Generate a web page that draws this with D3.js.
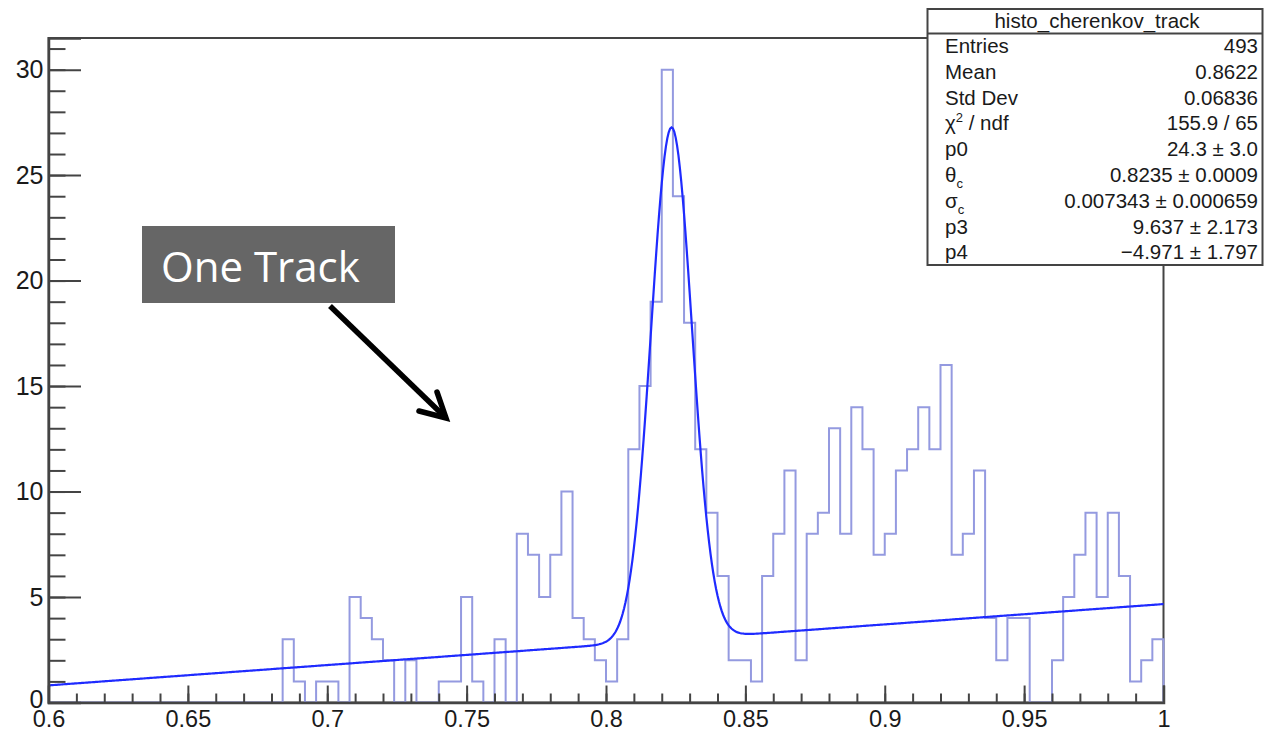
<!DOCTYPE html>
<html lang="en">
<head>
    <meta charset="UTF-8">
    <title>histo_cherenkov_track</title>
    <script src="https://d3js.org/d3.v7.min.js"></script>
    <style>
        body { margin: 0; background: #fff; }
        svg { display: block; }
        .axis text { font-family: "Liberation Sans", Arial, sans-serif; font-size: 25px; fill: #1a1a1a; }
        .axis.xlab text { font-size: 23.5px; }
        .axis path, .axis line { stroke: #444; }
        .stats text { font-family: "Liberation Sans", Arial, sans-serif; font-size: 20.5px; fill: #1a1a1a; }
    </style>
</head>
<body>
<div id="chart"></div>
<script>
    // histogram: 100 bins between 0.6 and 1
    const xRange = [0.6, 1.0];
    const nBins = 100;
    const counts = [
        0, 0, 0, 0, 0, 0, 0, 0, 0, 0,
        0, 0, 0, 0, 0, 0, 0, 0, 0, 0,
        0, 3, 1, 0, 1, 1, 0, 5, 4, 3,
        2, 0, 2, 0, 0, 1, 1, 5, 1, 0,
        3, 0, 8, 7, 5, 7, 10, 4, 3, 2,
        1, 3, 12, 15, 19, 30, 24, 18, 12, 9,
        6, 2, 2, 1, 6, 8, 11, 2, 8, 9,
        13, 8, 14, 12, 7, 8, 11, 12, 14, 12,
        16, 7, 8, 11, 4, 2, 4, 4, 0, 0,
        2, 5, 7, 9, 5, 9, 6, 1, 2, 3
    ];

    // fit: p0*gaus(theta_c, sigma_c) + p4 + p3*x
    const fitParams = [24.3, 0.8235, 0.007343, 9.637, -4.971];

    const xTicks = [0.6, 0.65, 0.7, 0.75, 0.8, 0.85, 0.9, 0.95, 1];
    const xTickLabels = ["0.6", "0.65", "0.7", "0.75", "0.8", "0.85", "0.9", "0.95", "1"];
    const yTicks = [0, 5, 10, 15, 20, 25, 30];

    const statsTitle = "histo_cherenkov_track";
    const statsNames = ["Entries", "Mean", "Std Dev", "χ2 / ndf", "p0", "θc", "σc", "p3", "p4"];
    const statsValues = ["493", "0.8622", "0.06836", "155.9 / 65", "24.3 ± 3.0", "0.8235 ± 0.0009",
        "0.007343 ± 0.000659", "9.637 ± 2.173", "−4.971 ± 1.797"];

    const width = 1264, height = 733;
    const svg = d3.select("#chart").append("svg")
        .attr("width", width)
        .attr("height", height);

    const x = d3.scaleLinear().domain(xRange).range([48.5, 1163.5]);
    const y = d3.scaleLinear().domain([0, 31.5]).range([702.5, 38]);

    // frame
    svg.append("rect")
        .attr("x", x(0.6)).attr("y", y(31.5))
        .attr("width", x(1) - x(0.6)).attr("height", y(0) - y(31.5))
        .attr("fill", "none").attr("stroke", "#444").attr("stroke-width", 2);

    // histogram outline
    const binW = (xRange[1] - xRange[0]) / nBins;
    const histPts = [[xRange[0], 0]];
    counts.forEach((c, i) => {
        histPts.push([xRange[0] + i * binW, c]);
        histPts.push([xRange[0] + (i + 1) * binW, c]);
    });
    histPts.push([xRange[1], 0]);
    const line = d3.line().x(d => x(d[0])).y(d => y(d[1]));
    svg.append("path")
        .attr("d", line(histPts))
        .attr("fill", "none")
        .attr("stroke", "#949ae0")
        .attr("stroke-width", 2);

    // fit curve
    const [p0, mu, sig, p3, p4] = fitParams;
    const fitPts = d3.range(0, 801).map(k => {
        const xv = xRange[0] + k * (xRange[1] - xRange[0]) / 800;
        return [xv, p0 * Math.exp(-0.5 * ((xv - mu) / sig) ** 2) + p4 + p3 * xv];
    });
    svg.append("path")
        .attr("d", line(fitPts))
        .attr("fill", "none")
        .attr("stroke", "#1f2bff")
        .attr("stroke-width", 2.2);

    // x axis (ticks inside, up)
    svg.append("g").attr("class", "axis")
        .attr("transform", `translate(0,${y(0)})`)
        .call(d3.axisBottom(x).tickValues(d3.range(0.6, 1.0001, 0.01)).tickSize(-9).tickFormat(""))
        .call(g => g.select(".domain").remove())
        .selectAll("line").attr("stroke-width", 2);
    svg.append("g").attr("class", "axis xlab")
        .attr("transform", `translate(0,${y(0)})`)
        .call(d3.axisBottom(x).tickValues(xTicks).tickSize(-17).tickPadding(8)
            .tickFormat((d, i) => xTickLabels[i]))
        .call(g => g.select(".domain").attr("stroke-width", 2.5))
        .call(g => g.selectAll("line").attr("stroke-width", 2));

    // y axis
    svg.append("g").attr("class", "axis")
        .attr("transform", `translate(${x(0.6)},0)`)
        .call(d3.axisLeft(y).tickValues(d3.range(0, 32, 1)).tickSize(-17).tickFormat(""))
        .call(g => g.select(".domain").remove())
        .selectAll("line").attr("stroke-width", 2);
    svg.append("g").attr("class", "axis")
        .attr("transform", `translate(${x(0.6)},0)`)
        .call(d3.axisLeft(y).tickValues(yTicks).tickSize(-32.5).tickPadding(5))
        .call(g => g.select(".domain").attr("stroke-width", 2.5))
        .call(g => g.selectAll("line").attr("stroke-width", 2))
        .call(g => g.selectAll(".tick text").filter(d => d === 0).attr("dy", "0.2em"));

    // annotation
    const note = svg.append("g");
    note.append("rect")
        .attr("x", 142).attr("y", 226).attr("width", 253).attr("height", 77)
        .attr("fill", "#666666");
    note.append("text")
        .attr("x", 161).attr("y", 282)
        .attr("font-family", "'Open Sans', sans-serif")
        .attr("font-size", 42)
        .attr("fill", "#fff")
        .text("One Track");
    note.append("line")
        .attr("x1", 330).attr("y1", 306).attr("x2", 445).attr("y2", 417)
        .attr("stroke", "#000").attr("stroke-width", 5.5);
    note.append("path")
        .attr("d", "M437,392 L446,418 L419,411")
        .attr("fill", "none").attr("stroke", "#000").attr("stroke-width", 5.5)
        .attr("stroke-linecap", "round").attr("stroke-linejoin", "miter");

    // stats box
    const box = { x: 927.5, y: 9, w: 335, h: 256 };
    const stats = svg.append("g").attr("class", "stats");
    stats.append("rect")
        .attr("x", box.x).attr("y", box.y).attr("width", box.w).attr("height", box.h)
        .attr("fill", "#fff").attr("stroke", "#444").attr("stroke-width", 2);
    stats.append("line")
        .attr("x1", box.x).attr("x2", box.x + box.w).attr("y1", 33.5).attr("y2", 33.5)
        .attr("stroke", "#444").attr("stroke-width", 2);
    stats.append("text")
        .attr("x", 1097).attr("y", 28).attr("text-anchor", "middle")
        .text(statsTitle);

    const rowH = 25.8;
    statsNames.forEach((name, i) => {
        const yy = 53 + i * rowH;
        const t = stats.append("text").attr("x", 945).attr("y", yy);
        if (name === "χ2 / ndf") {
            t.append("tspan").text("χ");
            t.append("tspan").attr("dy", -8).attr("font-size", 13).text("2");
            t.append("tspan").attr("dy", 8).text(" / ndf");
        } else if (name === "θc" || name === "σc") {
            t.append("tspan").text(name[0]);
            t.append("tspan").attr("dy", 6).attr("font-size", 13).text("c");
        } else {
            t.text(name);
        }
        stats.append("text")
            .attr("x", 1258).attr("y", yy).attr("text-anchor", "end")
            .text(statsValues[i]);
    });
</script>
</body>
</html>
